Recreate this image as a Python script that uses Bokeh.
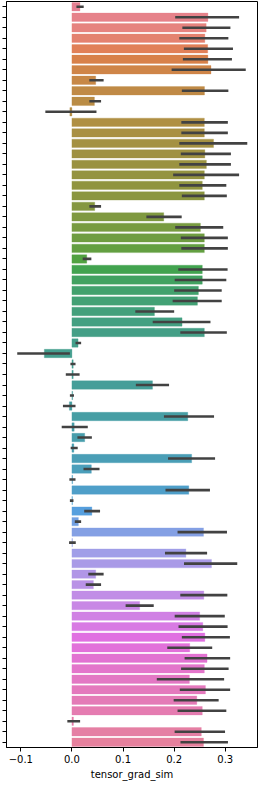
import math
import colorsys
import numpy as np
from bokeh.plotting import figure
from bokeh.models import ColumnDataSource, Range1d, FixedTicker, CustomJSTickFormatter
from bokeh.embed import file_html
from bokeh.resources import INLINE

# ---- data ----
means = [0.0157, 0.266, 0.2626, 0.260, 0.2656, 0.266, 0.272, 0.0465, 0.2593, 0.044,
         -0.004, 0.259, 0.259, 0.277, 0.260, 0.263, 0.259, 0.255, 0.259, 0.0446,
         0.1796, 0.2513, 0.259, 0.259, 0.029, 0.255, 0.255, 0.2474, 0.2455, 0.1614,
         0.2154, 0.259, 0.012, -0.054, 0.0025, 0.0025, 0.1576, 0.0013, -0.005, 0.2266,
         0.0044, 0.025, 0.0038, 0.2342, 0.038, 0.0013, 0.2286, 0.001, 0.039, 0.0126,
         0.2574, 0.001, 0.2229, 0.273, 0.0465, 0.042, 0.258, 0.1325, 0.2499, 0.256,
         0.260, 0.2305, 0.2643, 0.259, 0.2298, 0.2612, 0.2443, 0.255, 0.003, 0.2531,
         0.2574]
ci_low = [0.0088, 0.202, 0.216, 0.210, 0.219, 0.217, 0.195, 0.034, 0.215, 0.034,
          -0.052, 0.214, 0.214, 0.210, 0.213, 0.210, 0.198, 0.210, 0.215, 0.034,
          0.1456, 0.202, 0.213, 0.214, 0.021, 0.208, 0.201, 0.200, 0.197, 0.124,
          0.158, 0.212, 0.007, -0.107, -0.003, -0.012, 0.125, -0.004, -0.0176, 0.180,
          -0.020, 0.0107, -0.0025, 0.188, 0.0226, -0.005, 0.183, -0.004, 0.024, 0.0056,
          0.2066, -0.0056, 0.182, 0.2192, 0.032, 0.027, 0.212, 0.105, 0.201, 0.2085,
          0.215, 0.1865, 0.2204, 0.2135, 0.166, 0.211, 0.199, 0.2066, -0.009, 0.2009,
          0.2123]
ci_high = [0.023, 0.327, 0.310, 0.306, 0.315, 0.313, 0.340, 0.062, 0.306, 0.057,
           0.048, 0.305, 0.305, 0.343, 0.311, 0.311, 0.327, 0.302, 0.303, 0.057,
           0.2147, 0.296, 0.305, 0.305, 0.038, 0.3045, 0.302, 0.293, 0.293, 0.200,
           0.271, 0.303, 0.018, -0.004, 0.007, 0.015, 0.190, 0.004, 0.007, 0.278,
           0.031, 0.039, 0.0113, 0.280, 0.054, 0.007, 0.270, 0.003, 0.055, 0.018,
           0.3033, 0.0075, 0.2644, 0.3234, 0.062, 0.057, 0.304, 0.160, 0.299, 0.3045,
           0.309, 0.2744, 0.3095, 0.3065, 0.2977, 0.3095, 0.287, 0.302, 0.016, 0.2995,
           0.3052]
x_ticks = [-0.1, 0.0, 0.1, 0.2, 0.3]
x_label = "tensor_grad_sim"

n = len(means)
idx = list(range(n))

# ---- seaborn-like husl palette (desaturated 0.75) ----
_m = [[3.2406, -1.5372, -0.4986], [-0.9689, 1.8758, 0.0415], [0.0557, -0.2040, 1.0570]]
refU, refV = 0.19784, 0.46834


def _max_chroma(L, H):
    hrad = math.radians(H)
    sinH, cosH = math.sin(hrad), math.cos(hrad)
    sub1 = (L + 16) ** 3 / 1560896.0
    sub2 = sub1 if sub1 > 0.008856 else L / 903.3
    result = float("inf")
    for m1, m2, m3 in _m:
        top = (0.99915 * m1 + 1.05122 * m2 + 1.14460 * m3) * sub2
        rb = 0.86330 * m3 - 0.17266 * m2
        lb = 0.12949 * m3 - 0.38848 * m1
        bottom = (rb * sinH + lb * cosH) * sub2
        for t in (0.0, 1.0):
            C = L * (top - 1.05122 * t) / (bottom + 0.17266 * sinH * t)
            if 0.0 < C < result:
                result = C
    return result


def _finv(t):
    return t ** 3 if t ** 3 > 0.008856 else (116.0 * t - 16.0) / 903.3


def _lin(c):
    return 12.92 * c if c <= 0.0031308 else 1.055 * c ** (1 / 2.4) - 0.055


def husl_to_rgb(h, s, l):
    C = _max_chroma(l, h) / 100.0 * s
    hr = math.radians(h)
    U, V = math.cos(hr) * C, math.sin(hr) * C
    Y = _finv((l + 16.0) / 116.0)
    vu = U / (13.0 * l) + refU
    vv = V / (13.0 * l) + refV
    X = -(9.0 * Y * vu) / ((vu - 4.0) * vv - vu * vv)
    Z = (9.0 * Y - 15.0 * vv * Y - vv * X) / (3.0 * vv)
    rgb = [_lin(r[0] * X + r[1] * Y + r[2] * Z) for r in _m]
    return [min(max(c, 0.0), 1.0) for c in rgb]


def palette(k, h=0.01, s=0.9, l=0.65, sat=0.75):
    hues = (np.linspace(0, 1, k + 1)[:-1] + h) % 1 * 359
    out = []
    for hu in hues:
        r, g, b = husl_to_rgb(hu, s * 99, l * 99)
        hh, ll, ss = colorsys.rgb_to_hls(r, g, b)
        r, g, b = colorsys.hls_to_rgb(hh, ll, ss * sat)
        out.append("#%02x%02x%02x" % tuple(int(round(c * 255)) for c in (r, g, b)))
    return out


colors = palette(n)

src = ColumnDataSource(dict(y=idx, m=means, lo=ci_low, hi=ci_high, c=colors))

p = figure(width=258, height=782, output_backend="svg", toolbar_location=None,
           x_range=Range1d(-0.128, 0.363), y_range=Range1d(n - 0.5, -0.5),
           min_border_left=6, min_border_right=1, min_border_top=1, min_border_bottom=2)

p.hbar(y="y", left=0, right="m", height=0.8, fill_color="c", line_color="c",
       line_alpha=0.3, source=src)
p.segment(x0="lo", x1="hi", y0="y", y1="y", line_color="#424242", line_width=2.6,
          source=src)

p.xgrid.visible = False
p.ygrid.visible = False
p.outline_line_color = "black"
p.outline_line_width = 1
p.outline_line_alpha = 1

xa = p.xaxis[0]
xa.ticker = FixedTicker(ticks=x_ticks)
xa.formatter = CustomJSTickFormatter(
    code="return (tick < -1e-9 ? '\u2212' : '') + Math.abs(tick).toFixed(1);")
xa.minor_tick_line_color = None
xa.major_tick_out = 4
xa.major_tick_in = 0
xa.axis_line_color = "black"
xa.major_tick_line_color = "black"
xa.major_label_text_font = "DejaVu Sans"
xa.major_label_text_font_size = "10px"
xa.major_label_text_color = "black"
xa.axis_label = x_label
xa.axis_label_text_font = "DejaVu Sans"
xa.axis_label_text_font_size = "10px"
xa.axis_label_text_font_style = "normal"
xa.axis_label_text_color = "black"
xa.axis_label_standoff = 3
xa.major_label_standoff = 3

ya = p.yaxis[0]
ya.ticker = FixedTicker(ticks=idx)
ya.formatter = CustomJSTickFormatter(code="return '';")
ya.minor_tick_line_color = None
ya.major_tick_out = 4
ya.major_tick_in = 0
ya.axis_line_color = "black"
ya.major_tick_line_color = "black"
ya.major_label_standoff = 0

open("out.html", "w").write(file_html(p, INLINE))
